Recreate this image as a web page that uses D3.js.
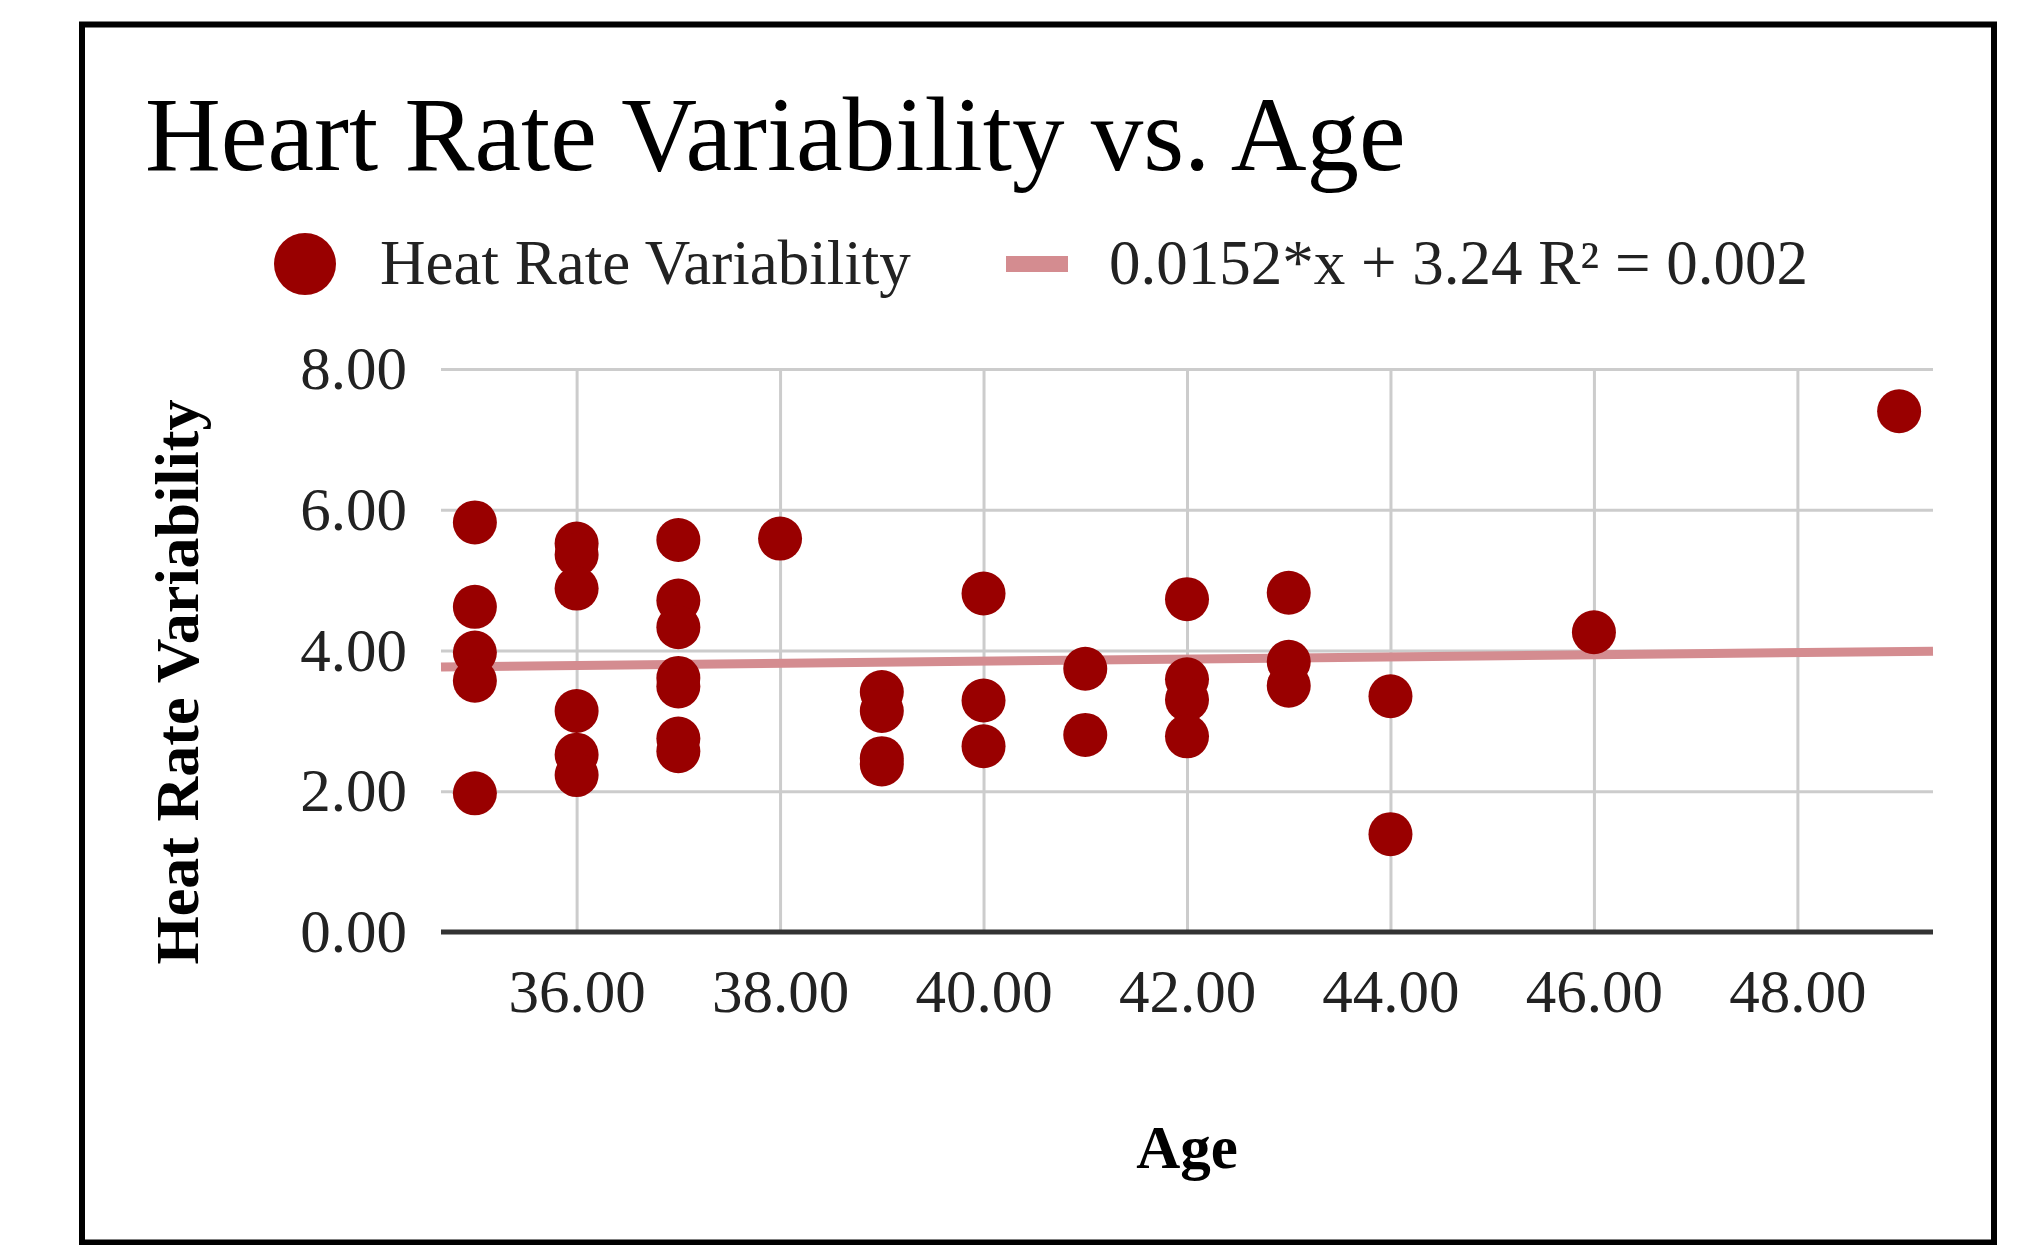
<!DOCTYPE html>
<html>
<head>
<meta charset="utf-8">
<script src="https://cdn.jsdelivr.net/npm/d3@7"></script>
<style>
  html, body { margin: 0; padding: 0; background: #fff; }
  svg { display: block; }
  text { font-family: "Liberation Serif", "Times New Roman", serif; }
</style>
</head>
<body>
<svg id="chart" width="2017" height="1245"></svg>
<script>
// ---- data ----
const titleText = "Heart Rate Variability vs. Age";
const seriesName = "Heat Rate Variability";
const trendLabel = "0.0152*x + 3.24 R\u00B2 = 0.002";
const xTitle = "Age";
const yTitle = "Heat Rate Variability";
const ages = [35,35,35,35,35, 36,36,36,36,36,36, 37,37,37,37,37,37,37, 38,
              39,39,39,39, 40,40,40, 41,41, 42,42,42,42, 43,43,43, 44,44, 46, 49];
const hrv  = [5.82,4.62,3.97,3.57,1.97, 5.52,5.36,4.88,3.14,2.52,2.23,
              5.57,4.71,4.33,3.61,3.49,2.75,2.57, 5.59,
              3.41,3.14,2.47,2.38, 4.81,3.29,2.64, 3.74,2.80,
              4.73,3.59,3.30,2.78, 4.82,3.84,3.50, 3.35,1.39, 4.26, 7.40];
const trendSlope = 0.0152, trendIntercept = 3.24;
const xTicks = [36,38,40,42,44,46,48];
const yTicks = [0,2,4,6,8];
const xDomain = [34.667, 49.333];
const yDomain = [0, 8];

// ---- drawing ----
const svg = d3.select("#chart");
const plot = {left: 441, right: 1933, top: 369, bottom: 932};
const x = d3.scaleLinear().domain(xDomain).range([plot.left, plot.right]);
const y = d3.scaleLinear().domain(yDomain).range([plot.bottom, plot.top]);
const pointColor = "#990000";
const trendColor = "rgb(212,140,144)";

// frame
svg.append("rect").attr("x", 82).attr("y", 24.5).attr("width", 1912).attr("height", 1218)
  .attr("fill", "#fff").attr("stroke", "#000").attr("stroke-width", 6);

// title
svg.append("text").attr("x", 145).attr("y", 170).attr("font-size", 105).attr("fill", "#000")
  .text(titleText);

// legend
svg.append("circle").attr("cx", 305).attr("cy", 264).attr("r", 31).attr("fill", pointColor);
svg.append("text").attr("x", 380).attr("y", 284).attr("font-size", 63).attr("fill", "#222").text(seriesName);
svg.append("rect").attr("x", 1006).attr("y", 256).attr("width", 62).attr("height", 16).attr("fill", trendColor);
svg.append("text").attr("x", 1109).attr("y", 284).attr("font-size", 63).attr("fill", "#222").text(trendLabel);

// gridlines
const gx = svg.append("g").attr("transform", `translate(0,${plot.bottom})`)
  .call(d3.axisBottom(x).tickValues(xTicks).tickSize(-(plot.bottom - plot.top)).tickFormat(""));
gx.select(".domain").remove();
gx.selectAll("line").attr("stroke", "#cccccc").attr("stroke-width", 3);

const gy = svg.append("g").attr("transform", `translate(${plot.left},0)`)
  .call(d3.axisLeft(y).tickValues(yTicks.filter(d => d !== 0)).tickSize(-(plot.right - plot.left)).tickFormat(""));
gy.select(".domain").remove();
gy.selectAll("line").attr("stroke", "#cccccc").attr("stroke-width", 3);

// baseline
svg.append("line").attr("x1", plot.left).attr("x2", plot.right)
  .attr("y1", y(0)).attr("y2", y(0)).attr("stroke", "#333").attr("stroke-width", 5);

// tick labels
const xl = svg.append("g").attr("transform", `translate(0,${plot.bottom})`)
  .call(d3.axisBottom(x).tickValues(xTicks).tickSize(0).tickPadding(37).tickFormat(d3.format(".2f")));
xl.select(".domain").remove();
xl.selectAll("text").attr("font-size", 61).attr("fill", "#222")
  .attr("font-family", "'Liberation Serif', 'Times New Roman', serif");

const yl = svg.append("g").attr("transform", `translate(${plot.left},0)`)
  .call(d3.axisLeft(y).tickValues(yTicks).tickSize(0).tickPadding(34).tickFormat(d3.format(".2f")));
yl.select(".domain").remove();
yl.selectAll("text").attr("font-size", 61).attr("fill", "#222")
  .attr("font-family", "'Liberation Serif', 'Times New Roman', serif");

// trendline
svg.append("line")
  .attr("x1", x(xDomain[0])).attr("y1", y(trendSlope * xDomain[0] + trendIntercept))
  .attr("x2", x(xDomain[1])).attr("y2", y(trendSlope * xDomain[1] + trendIntercept))
  .attr("stroke", trendColor).attr("stroke-width", 9);

// points
svg.append("g").selectAll("circle").data(ages.map((a, i) => ({a, v: hrv[i]}))).join("circle")
  .attr("cx", d => x(d.a)).attr("cy", d => y(d.v)).attr("r", 22).attr("fill", pointColor);

// axis titles
svg.append("text").attr("x", (plot.left + plot.right) / 2).attr("y", 1168)
  .attr("text-anchor", "middle").attr("font-size", 61).attr("font-weight", "bold").attr("fill", "#000")
  .text(xTitle);
svg.append("text").attr("transform", "translate(198,682) rotate(-90)")
  .attr("text-anchor", "middle").attr("font-size", 62).attr("font-weight", "bold").attr("fill", "#000")
  .text(yTitle);
</script>
</body>
</html>
